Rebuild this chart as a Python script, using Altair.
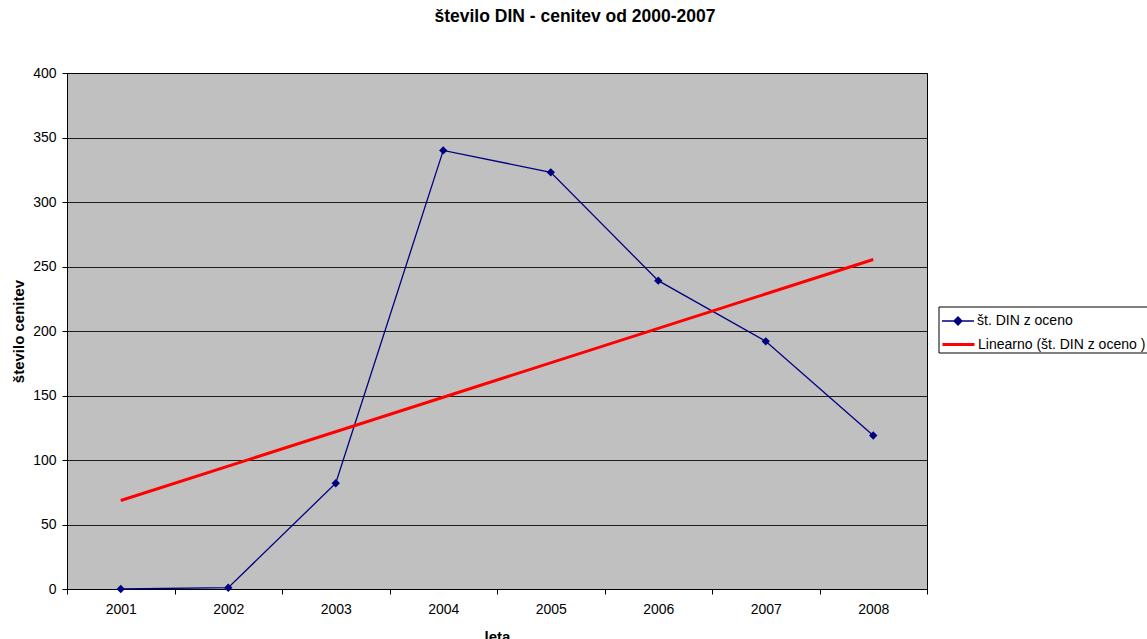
import altair as alt
import pandas as pd

# ---- data ----
years = [2001, 2002, 2003, 2004, 2005, 2006, 2007, 2008]
counts = [0, 1, 82, 340, 323, 239, 192, 119]
series_name = "št. DIN z oceno"
trend_name = "Linearno (št. DIN z oceno )"
y_ticks = [0, 50, 100, 150, 200, 250, 300, 350, 400]
chart_title = "število DIN - cenitev od 2000-2007"
x_title = "leta"
y_title = "število cenitev"

NAVY = "#000080"
RED = "#FF0000"
FONT = "Liberation Sans"

df = pd.DataFrame({"year": years, "count": counts, "series": [series_name] * len(years)})

x_enc = alt.X(
    "year:O",
    bandPosition=0.5,
    scale=alt.Scale(type="band", paddingInner=0, paddingOuter=0),
    axis=alt.Axis(
        title=x_title,
        labelAngle=0,
        tickBand="extent",
        tickSize=5,
        labelPadding=8,
        domainColor="black",
        tickColor="black",
        grid=False,
        titleX=430,
        titleY=52,
        titleBaseline="alphabetic",
    ),
)
y_enc = alt.Y(
    "count:Q",
    scale=alt.Scale(domain=[0, 400], nice=False),
    axis=alt.Axis(
        title=y_title,
        values=y_ticks,
        tickSize=5,
        labelPadding=6,
        domainColor="black",
        tickColor="black",
        gridColor="black",
        gridOpacity=0.85,
        titleX=-49,
        titleY=258,
        titleAlign="center",
        titleBaseline="middle",
    ),
)

base = alt.Chart(df)

line = base.mark_line(strokeWidth=1.3).encode(
    x=x_enc,
    y=y_enc,
    color=alt.Color(
        "series:N",
        scale=alt.Scale(domain=[series_name], range=[NAVY]),
        legend=alt.Legend(
            title=None,
            orient="none",
            legendX=874,
            legendY=231,
            padding=0,
            symbolType="M-1,0H1M-0.25,0L0,-0.25L0.25,0L0,0.25Z",
            symbolSize=1024,
            symbolStrokeWidth=1.3,
            symbolFillColor=NAVY,
            labelOffset=2,
            labelLimit=0,
            labelFontSize=14,
            labelFont=FONT,
            labelColor="black",
        ),
    ),
)

points = base.mark_point(shape="diamond", filled=True, size=70, opacity=1, color=NAVY).encode(
    x=x_enc, y=y_enc
)

trend = (
    base.transform_regression("year", "count")
    .transform_calculate(series=f"'{trend_name}'")
    .mark_line(strokeWidth=3)
    .encode(
        x=x_enc,
        y=y_enc,
        color=alt.Color(
            "series:N",
            scale=alt.Scale(domain=[trend_name], range=[RED]),
            legend=alt.Legend(
                title=None,
                orient="none",
                legendX=874,
                legendY=254,
                padding=0,
                symbolType="stroke",
                symbolSize=1024,
                symbolStrokeWidth=3,
                labelOffset=2,
                labelLimit=0,
                labelFontSize=14,
                labelFont=FONT,
                labelColor="black",
            ),
        ),
    )
)

frame = (
    alt.Chart(pd.DataFrame({"k": [0]}))
    .mark_rect(fill="white", stroke="black", strokeWidth=1)
    .encode(x=alt.value(872), x2=alt.value(1110), y=alt.value(234), y2=alt.value(280))
)

chart = (
    alt.layer(line, trend, points, frame)
    .resolve_scale(color="independent")
    .properties(
        width=860,
        height=516,
        autosize=alt.AutoSizeParams(type="none"),
        padding={"left": 67, "top": 73, "right": 220, "bottom": 50},
        background="white",
        title=alt.Title(
            chart_title,
            fontSize=17.5,
            fontWeight="bold",
            font=FONT,
            anchor="middle",
            dx=78,
            offset=41,
            color="black",
        ),
    )
    .configure_view(fill="#C0C0C0", stroke="black", strokeWidth=1)
    .configure_axis(
        labelFont=FONT,
        labelFontSize=14,
        labelColor="black",
        titleFont=FONT,
        titleFontSize=15,
        titleFontWeight="bold",
        titleColor="black",
    )
)

chart.save("out.html", embed_options={"renderer": "svg", "actions": False})
